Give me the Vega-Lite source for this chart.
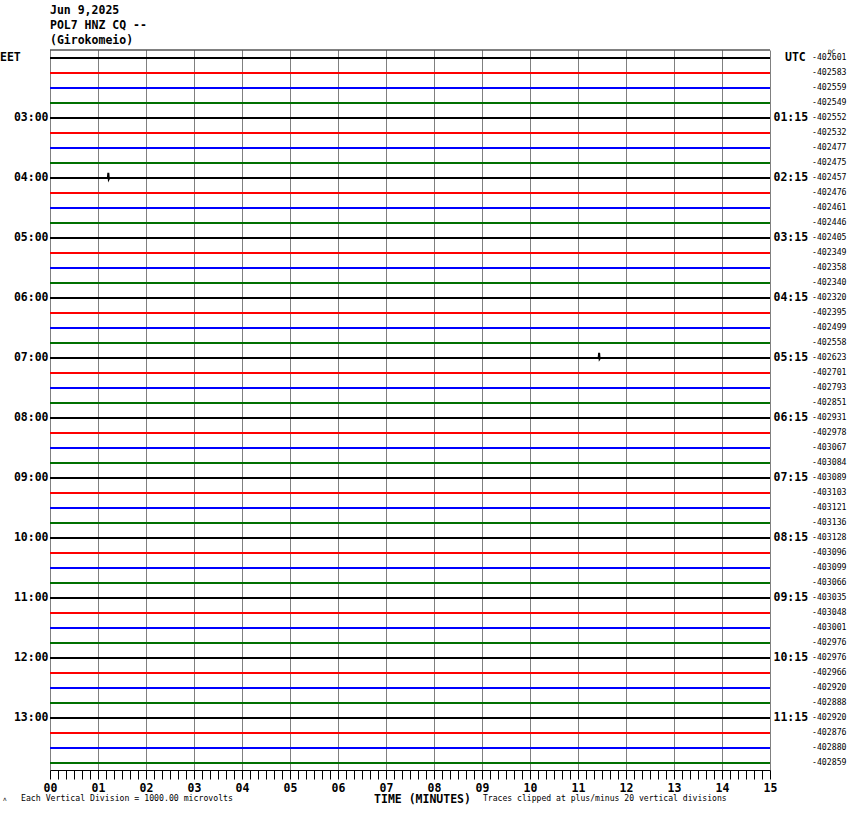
{
  "$schema": "https://vega.github.io/schema/vega-lite/v6.json",
  "width": 720,
  "height": 720,
  "autosize": {"type": "none"},
  "padding": {"left": 50, "top": 50, "right": 80, "bottom": 44},
  "background": "white",
  "config": {"view": {"stroke": null}, "font": "DejaVu Sans Mono"},
  "title": {
    "text": ["Jun 9,2025", "POL7 HNZ CQ --", "(Girokomeio)"],
    "anchor": "start",
    "frame": "group",
    "font": "DejaVu Sans Mono",
    "fontSize": 11.5,
    "fontWeight": "bold",
    "lineHeight": 15,
    "offset": 3,
    "color": "black"
  },
  "resolve": {"axis": {"x": "independent"}},
  "datasets": {
    "traces": [
      {"row": 0, "line": 1, "t": 0, "pos": 0}, {"row": 0, "line": 1, "t": 15, "pos": 0},
      {"row": 1, "line": 2, "t": 0, "pos": 1}, {"row": 1, "line": 2, "t": 15, "pos": 1},
      {"row": 2, "line": 3, "t": 0, "pos": 2}, {"row": 2, "line": 3, "t": 15, "pos": 2},
      {"row": 3, "line": 4, "t": 0, "pos": 3}, {"row": 3, "line": 4, "t": 15, "pos": 3},
      {"row": 4, "line": 1, "t": 0, "pos": 4}, {"row": 4, "line": 1, "t": 15, "pos": 4},
      {"row": 5, "line": 2, "t": 0, "pos": 5}, {"row": 5, "line": 2, "t": 15, "pos": 5},
      {"row": 6, "line": 3, "t": 0, "pos": 6}, {"row": 6, "line": 3, "t": 15, "pos": 6},
      {"row": 7, "line": 4, "t": 0, "pos": 7}, {"row": 7, "line": 4, "t": 15, "pos": 7},
      {"row": 8, "line": 1, "t": 0, "pos": 8}, {"row": 8, "line": 1, "t": 1.205, "pos": 8},
      {"row": 8, "line": 1, "t": 1.215, "pos": 7.65}, {"row": 8, "line": 1, "t": 1.225, "pos": 8.06},
      {"row": 8, "line": 1, "t": 1.235, "pos": 8}, {"row": 8, "line": 1, "t": 15, "pos": 8},
      {"row": 9, "line": 2, "t": 0, "pos": 9}, {"row": 9, "line": 2, "t": 15, "pos": 9},
      {"row": 10, "line": 3, "t": 0, "pos": 10}, {"row": 10, "line": 3, "t": 15, "pos": 10},
      {"row": 11, "line": 4, "t": 0, "pos": 11}, {"row": 11, "line": 4, "t": 15, "pos": 11},
      {"row": 12, "line": 1, "t": 0, "pos": 12}, {"row": 12, "line": 1, "t": 15, "pos": 12},
      {"row": 13, "line": 2, "t": 0, "pos": 13}, {"row": 13, "line": 2, "t": 15, "pos": 13},
      {"row": 14, "line": 3, "t": 0, "pos": 14}, {"row": 14, "line": 3, "t": 15, "pos": 14},
      {"row": 15, "line": 4, "t": 0, "pos": 15}, {"row": 15, "line": 4, "t": 15, "pos": 15},
      {"row": 16, "line": 1, "t": 0, "pos": 16}, {"row": 16, "line": 1, "t": 15, "pos": 16},
      {"row": 17, "line": 2, "t": 0, "pos": 17}, {"row": 17, "line": 2, "t": 15, "pos": 17},
      {"row": 18, "line": 3, "t": 0, "pos": 18}, {"row": 18, "line": 3, "t": 15, "pos": 18},
      {"row": 19, "line": 4, "t": 0, "pos": 19}, {"row": 19, "line": 4, "t": 15, "pos": 19},
      {"row": 20, "line": 1, "t": 0, "pos": 20}, {"row": 20, "line": 1, "t": 11.43, "pos": 20},
      {"row": 20, "line": 1, "t": 11.44, "pos": 19.65}, {"row": 20, "line": 1, "t": 11.45, "pos": 20.05},
      {"row": 20, "line": 1, "t": 11.46, "pos": 20}, {"row": 20, "line": 1, "t": 15, "pos": 20},
      {"row": 21, "line": 2, "t": 0, "pos": 21}, {"row": 21, "line": 2, "t": 15, "pos": 21},
      {"row": 22, "line": 3, "t": 0, "pos": 22}, {"row": 22, "line": 3, "t": 15, "pos": 22},
      {"row": 23, "line": 4, "t": 0, "pos": 23}, {"row": 23, "line": 4, "t": 15, "pos": 23},
      {"row": 24, "line": 1, "t": 0, "pos": 24}, {"row": 24, "line": 1, "t": 15, "pos": 24},
      {"row": 25, "line": 2, "t": 0, "pos": 25}, {"row": 25, "line": 2, "t": 15, "pos": 25},
      {"row": 26, "line": 3, "t": 0, "pos": 26}, {"row": 26, "line": 3, "t": 15, "pos": 26},
      {"row": 27, "line": 4, "t": 0, "pos": 27}, {"row": 27, "line": 4, "t": 15, "pos": 27},
      {"row": 28, "line": 1, "t": 0, "pos": 28}, {"row": 28, "line": 1, "t": 15, "pos": 28},
      {"row": 29, "line": 2, "t": 0, "pos": 29}, {"row": 29, "line": 2, "t": 15, "pos": 29},
      {"row": 30, "line": 3, "t": 0, "pos": 30}, {"row": 30, "line": 3, "t": 15, "pos": 30},
      {"row": 31, "line": 4, "t": 0, "pos": 31}, {"row": 31, "line": 4, "t": 15, "pos": 31},
      {"row": 32, "line": 1, "t": 0, "pos": 32}, {"row": 32, "line": 1, "t": 15, "pos": 32},
      {"row": 33, "line": 2, "t": 0, "pos": 33}, {"row": 33, "line": 2, "t": 15, "pos": 33},
      {"row": 34, "line": 3, "t": 0, "pos": 34}, {"row": 34, "line": 3, "t": 15, "pos": 34},
      {"row": 35, "line": 4, "t": 0, "pos": 35}, {"row": 35, "line": 4, "t": 15, "pos": 35},
      {"row": 36, "line": 1, "t": 0, "pos": 36}, {"row": 36, "line": 1, "t": 15, "pos": 36},
      {"row": 37, "line": 2, "t": 0, "pos": 37}, {"row": 37, "line": 2, "t": 15, "pos": 37},
      {"row": 38, "line": 3, "t": 0, "pos": 38}, {"row": 38, "line": 3, "t": 15, "pos": 38},
      {"row": 39, "line": 4, "t": 0, "pos": 39}, {"row": 39, "line": 4, "t": 15, "pos": 39},
      {"row": 40, "line": 1, "t": 0, "pos": 40}, {"row": 40, "line": 1, "t": 15, "pos": 40},
      {"row": 41, "line": 2, "t": 0, "pos": 41}, {"row": 41, "line": 2, "t": 15, "pos": 41},
      {"row": 42, "line": 3, "t": 0, "pos": 42}, {"row": 42, "line": 3, "t": 15, "pos": 42},
      {"row": 43, "line": 4, "t": 0, "pos": 43}, {"row": 43, "line": 4, "t": 15, "pos": 43},
      {"row": 44, "line": 1, "t": 0, "pos": 44}, {"row": 44, "line": 1, "t": 15, "pos": 44},
      {"row": 45, "line": 2, "t": 0, "pos": 45}, {"row": 45, "line": 2, "t": 15, "pos": 45},
      {"row": 46, "line": 3, "t": 0, "pos": 46}, {"row": 46, "line": 3, "t": 15, "pos": 46},
      {"row": 47, "line": 4, "t": 0, "pos": 47}, {"row": 47, "line": 4, "t": 15, "pos": 47}
    ],
    "dc": [
      {"row": 0, "dc": "-402601"}, {"row": 1, "dc": "-402583"}, {"row": 2, "dc": "-402559"}, {"row": 3, "dc": "-402549"},
      {"row": 4, "dc": "-402552"}, {"row": 5, "dc": "-402532"}, {"row": 6, "dc": "-402477"}, {"row": 7, "dc": "-402475"},
      {"row": 8, "dc": "-402457"}, {"row": 9, "dc": "-402476"}, {"row": 10, "dc": "-402461"}, {"row": 11, "dc": "-402446"},
      {"row": 12, "dc": "-402405"}, {"row": 13, "dc": "-402349"}, {"row": 14, "dc": "-402358"}, {"row": 15, "dc": "-402340"},
      {"row": 16, "dc": "-402320"}, {"row": 17, "dc": "-402395"}, {"row": 18, "dc": "-402499"}, {"row": 19, "dc": "-402558"},
      {"row": 20, "dc": "-402623"}, {"row": 21, "dc": "-402701"}, {"row": 22, "dc": "-402793"}, {"row": 23, "dc": "-402851"},
      {"row": 24, "dc": "-402931"}, {"row": 25, "dc": "-402978"}, {"row": 26, "dc": "-403067"}, {"row": 27, "dc": "-403084"},
      {"row": 28, "dc": "-403089"}, {"row": 29, "dc": "-403103"}, {"row": 30, "dc": "-403121"}, {"row": 31, "dc": "-403136"},
      {"row": 32, "dc": "-403128"}, {"row": 33, "dc": "-403096"}, {"row": 34, "dc": "-403099"}, {"row": 35, "dc": "-403066"},
      {"row": 36, "dc": "-403035"}, {"row": 37, "dc": "-403048"}, {"row": 38, "dc": "-403001"}, {"row": 39, "dc": "-402976"},
      {"row": 40, "dc": "-402976"}, {"row": 41, "dc": "-402966"}, {"row": 42, "dc": "-402920"}, {"row": 43, "dc": "-402888"},
      {"row": 44, "dc": "-402920"}, {"row": 45, "dc": "-402876"}, {"row": 46, "dc": "-402880"}, {"row": 47, "dc": "-402859"}
    ],
    "one": [{}]
  },
  "layer": [
    {
      "data": {"name": "one"},
      "mark": {"type": "rule", "opacity": 0},
      "encoding": {
        "x": {
          "datum": 0, "type": "quantitative",
          "scale": {"domain": [0, 15], "nice": false, "zero": false},
          "axis": {
            "orient": "bottom",
            "values": [0, 1, 2, 3, 4, 5, 6, 7, 8, 9, 10, 11, 12, 13, 14, 15],
            "grid": true,
            "gridColor": "#808080",
            "gridWidth": 1,
            "gridOpacity": 1,
            "labels": false,
            "ticks": false,
            "domain": false,
            "title": null
          }
        },
        "y": {"datum": 0, "type": "quantitative", "axis": null}
      }
    },
    {
      "data": {"name": "traces"},
      "mark": {"type": "line", "strokeWidth": 2, "interpolate": "linear"},
      "encoding": {
        "x": {
          "field": "t", "type": "quantitative",
          "scale": {"domain": [0, 15], "nice": false, "zero": false},
          "axis": {
            "orient": "bottom",
            "values": [0,0.16667,0.33333,0.5,0.66667,0.83333,1,1.16667,1.33333,1.5,1.66667,1.83333,2,2.16667,2.33333,2.5,2.66667,2.83333,3,3.16667,3.33333,3.5,3.66667,3.83333,4,4.16667,4.33333,4.5,4.66667,4.83333,5,5.16667,5.33333,5.5,5.66667,5.83333,6,6.16667,6.33333,6.5,6.66667,6.83333,7,7.16667,7.33333,7.5,7.66667,7.83333,8,8.16667,8.33333,8.5,8.66667,8.83333,9,9.16667,9.33333,9.5,9.66667,9.83333,10,10.16667,10.33333,10.5,10.66667,10.83333,11,11.16667,11.33333,11.5,11.66667,11.83333,12,12.16667,12.33333,12.5,12.66667,12.83333,13,13.16667,13.33333,13.5,13.66667,13.83333,14,14.16667,14.33333,14.5,14.66667,14.83333,15],
            "labelExpr": "datum.value % 1 === 0 ? ((datum.value < 10 ? '0' : '') + datum.value) : ''",
            "labelFlush": false,
            "labelOverlap": false,
            "labelFont": "DejaVu Sans Mono",
            "labelFontSize": 11.5,
            "labelFontWeight": "bold",
            "labelColor": "black",
            "labelPadding": 3,
            "tickColor": "black",
            "tickSize": 9,
            "tickWidth": 1,
            "domainColor": "black",
            "domainWidth": 1,
            "grid": false,
            "title": "TIME (MINUTES)",
            "titleFont": "DejaVu Sans Mono",
            "titleFontSize": 11.5,
            "titleFontWeight": "bold",
            "titleColor": "black",
            "titleX": 372,
            "titleY": 32,
            "titleBaseline": "alphabetic"
          }
        },
        "y": {
          "field": "pos", "type": "quantitative",
          "scale": {"domain": [-0.53333, 47.46667], "reverse": true, "nice": false, "zero": false},
          "axis": {
            "orient": "left",
            "values": [4, 8, 12, 16, 20, 24, 28, 32, 36, 40, 44],
            "labelExpr": "(2 + datum.value/4 < 10 ? '0' : '') + (2 + datum.value/4) + ':00'",
            "labelFont": "DejaVu Sans Mono",
            "labelFontSize": 11.5,
            "labelFontWeight": "bold",
            "labelColor": "black",
            "labelPadding": 2,
            "ticks": false,
            "domain": false,
            "grid": false,
            "title": null
          }
        },
        "detail": {"field": "row", "type": "nominal"},
        "color": {
          "field": "line", "type": "nominal",
          "scale": {"domain": [1, 2, 3, 4], "range": ["#000000", "#ff0000", "#0000ff", "#007000"]},
          "legend": null
        }
      }
    },
    {
      "data": {"name": "dc"},
      "mark": {"type": "text", "align": "left", "baseline": "middle", "dx": 42, "font": "DejaVu Sans Mono", "fontSize": 8.2, "color": "black"},
      "encoding": {
        "x": {"datum": 15, "type": "quantitative", "axis": null},
        "y": {
          "field": "row", "type": "quantitative",
          "axis": {
            "orient": "right",
            "values": [4, 8, 12, 16, 20, 24, 28, 32, 36, 40, 44],
            "labelExpr": "(datum.value/4 < 10 ? '0' : '') + (datum.value/4) + ':15'",
            "labelFont": "DejaVu Sans Mono",
            "labelFontSize": 11.5,
            "labelFontWeight": "bold",
            "labelColor": "black",
            "labelPadding": 3,
            "ticks": false,
            "domain": false,
            "grid": false,
            "title": null
          }
        },
        "text": {"field": "dc", "type": "nominal"}
      }
    },
    {
      "data": {"name": "one"},
      "mark": {"type": "rule", "color": "black", "strokeWidth": 1},
      "encoding": {"y": {"datum": -0.53333, "type": "quantitative", "axis": null}}
    },
    {
      "data": {"name": "one"},
      "mark": {"type": "text", "text": "EET", "align": "left", "baseline": "middle", "dx": -50, "font": "DejaVu Sans Mono", "fontSize": 11.5, "fontWeight": "bold", "color": "black"},
      "encoding": {"x": {"datum": 0, "type": "quantitative", "axis": null}, "y": {"datum": 0, "type": "quantitative", "axis": null}}
    },
    {
      "data": {"name": "one"},
      "mark": {"type": "text", "text": "UTC", "align": "left", "baseline": "middle", "dx": 15, "font": "DejaVu Sans Mono", "fontSize": 11.5, "fontWeight": "bold", "color": "black"},
      "encoding": {"x": {"datum": 15, "type": "quantitative", "axis": null}, "y": {"datum": 0, "type": "quantitative", "axis": null}}
    },
    {
      "data": {"name": "one"},
      "mark": {"type": "text", "text": "DC", "align": "left", "baseline": "middle", "dx": 58, "dy": 2, "font": "DejaVu Sans Mono", "fontSize": 6, "color": "black"},
      "encoding": {"x": {"datum": 15, "type": "quantitative", "axis": null}, "y": {"datum": -0.53333, "type": "quantitative", "axis": null}}
    },
    {
      "data": {"name": "one"},
      "mark": {"type": "text", "text": "Each Vertical Division = 1000.00 microvolts", "align": "left", "baseline": "alphabetic", "dx": -29, "dy": 31, "font": "DejaVu Sans Mono", "fontSize": 8.2, "color": "black"},
      "encoding": {"x": {"datum": 0, "type": "quantitative", "axis": null}, "y": {"datum": 47.46667, "type": "quantitative", "axis": null}}
    },
    {
      "data": {"name": "one"},
      "mark": {"type": "text", "text": "ʌ", "align": "left", "baseline": "alphabetic", "dx": -47, "dy": 31, "font": "DejaVu Sans Mono", "fontSize": 6, "color": "black"},
      "encoding": {"x": {"datum": 0, "type": "quantitative", "axis": null}, "y": {"datum": 47.46667, "type": "quantitative", "axis": null}}
    },
    {
      "data": {"name": "one"},
      "mark": {"type": "text", "text": "Traces clipped at plus/minus 20 vertical divisions", "align": "left", "baseline": "alphabetic", "dx": 1, "dy": 31, "font": "DejaVu Sans Mono", "fontSize": 8.1, "color": "black"},
      "encoding": {"x": {"datum": 9, "type": "quantitative", "axis": null}, "y": {"datum": 47.46667, "type": "quantitative", "axis": null}}
    }
  ]
}
